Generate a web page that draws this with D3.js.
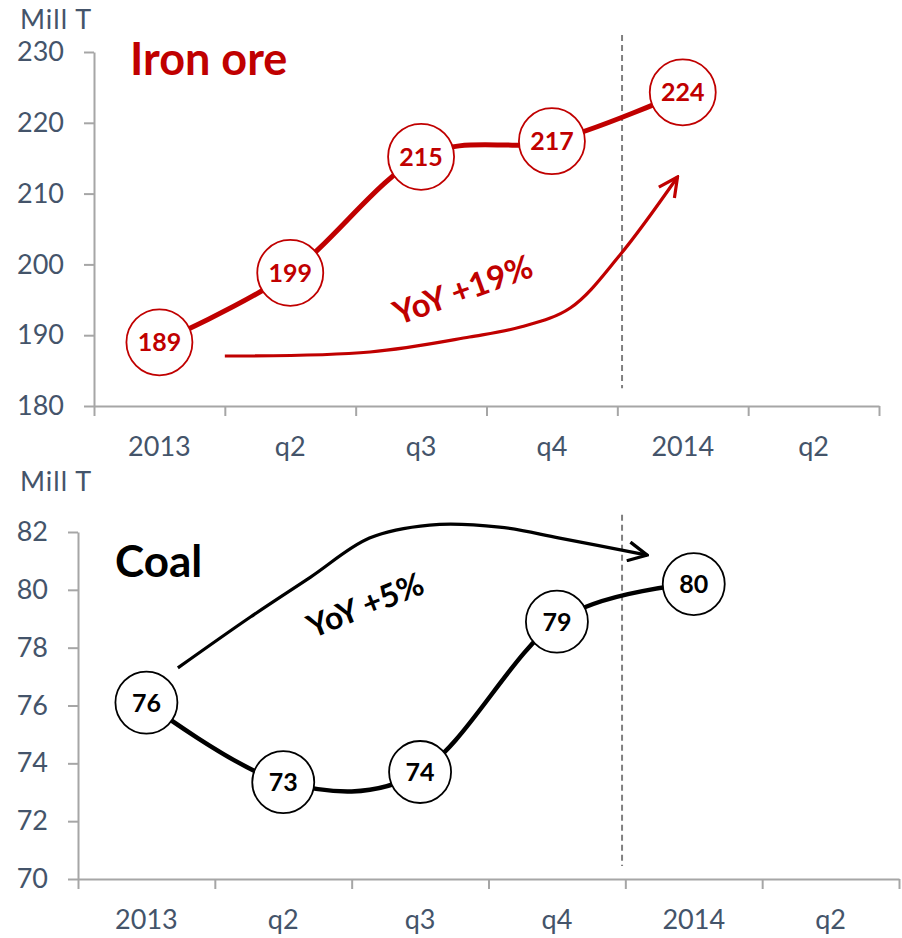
<!DOCTYPE html>
<html lang="en">
<head>
    <meta charset="UTF-8">
    <title>Iron ore and Coal</title>
    <script src="https://d3js.org/d3.v7.min.js"></script>
    <style>
        body { margin: 0; background: #fff; }
        text { font-family: Lato, "Open Sans", sans-serif; }
        .axis path, .axis line { stroke: #a6a6a6; stroke-width: 2; }
        .axis text { fill: #44546a; font-size: 27px; }
    </style>
</head>
<body>
<script>
    // Data
    const categories = ['2013', 'q2', 'q3', 'q4', '2014', 'q2'];

    const ironValues = [189.0, 198.8, 215.2, 217.4, 224.3];
    const ironLabels = ['189', '199', '215', '217', '224'];
    const ironTicks = [180, 190, 200, 210, 220, 230];

    const coalValues = [76.1, 73.35, 73.7, 78.9, 80.2];
    const coalLabels = ['76', '73', '74', '79', '80'];
    const coalTicks = [70, 72, 74, 76, 78, 80, 82];

    // annotation arrows, in (category boundary position, value)
    const ironArrow = [[1.00, 187.06], [2.11, 187.63], [2.87, 189.75], [3.26, 191.16],
                       [3.64, 193.84], [4.02, 201.33], [4.46, 212.34]];
    const coalArrow = [[0.73, 77.30], [1.26, 79.06], [1.70, 80.44], [2.13, 81.79],
                       [2.57, 82.24], [3.08, 82.17], [3.52, 81.79], [4.16, 81.20]];
    const ironDivider = [[4.036, 232.4], [4.036, 182.5]];
    const coalDivider = [[3.976, 82.6], [3.976, 70.45]];

    const svg = d3.select('body').append('svg')
        .attr('width', 902)
        .attr('height', 938);

    // arrow heads
    const defs = svg.append('defs');
    [['head-red', '#c00000'], ['head-black', '#000']].forEach(([id, c]) => {
        defs.append('marker')
            .attr('id', id)
            .attr('markerUnits', 'userSpaceOnUse')
            .attr('viewBox', '-22 -11 24 22')
            .attr('markerWidth', 24)
            .attr('markerHeight', 22)
            .attr('refX', 0)
            .attr('refY', 0)
            .attr('orient', 'auto')
            .append('path')
            .attr('d', 'M-19,-9.5L0,0L-19,9.5')
            .attr('fill', 'none')
            .attr('stroke', c)
            .attr('stroke-width', 3.2);
    });

    function drawPanel(opt) {
        const g = svg.append('g');

        const x = d3.scaleBand()
            .domain(d3.range(categories.length))
            .range([opt.x0, opt.x1])
            .padding(0);
        const xb = d3.scaleLinear()
            .domain([0, categories.length])
            .range([opt.x0, opt.x1]);
        const y = d3.scaleLinear()
            .domain([opt.ticks[0], opt.ticks[opt.ticks.length - 1]])
            .range([opt.y0, opt.y1]);

        // x axis: tick marks on boundaries, labels centred
        g.append('g')
            .attr('class', 'axis')
            .attr('transform', `translate(0,${opt.y0})`)
            .call(d3.axisBottom(xb).tickValues(d3.range(categories.length + 1))
                .tickSize(10).tickSizeOuter(0).tickFormat(''));
        g.append('g')
            .attr('class', 'axis')
            .attr('transform', `translate(0,${opt.y0})`)
            .call(d3.axisBottom(x).tickSize(0).tickPadding(31)
                .tickFormat(i => categories[i]))
            .call(a => a.select('.domain').remove());

        // y axis
        g.append('g')
            .attr('class', 'axis')
            .attr('transform', `translate(${opt.x0},0)`)
            .call(d3.axisLeft(y).tickValues(opt.ticks).tickSize(10)
                .tickSizeOuter(0).tickPadding(20));

        g.append('text')
            .attr('x', 20)
            .attr('y', opt.y1 - opt.unitGap)
            .attr('fill', '#44546a')
            .style('font-size', '27px')
            .style('letter-spacing', '1px')
            .text('Mill T');

        // divider
        g.append('path')
            .attr('d', d3.line().x(d => xb(d[0])).y(d => y(d[1]))(opt.divider))
            .attr('stroke', '#808080')
            .attr('stroke-width', 2)
            .attr('stroke-dasharray', '6,4');

        // annotation arrow
        g.append('path')
            .attr('d', d3.line().curve(d3.curveCatmullRom.alpha(0.5))
                .x(d => xb(d[0])).y(d => y(d[1]))(opt.arrow))
            .attr('fill', 'none')
            .attr('stroke', opt.color)
            .attr('stroke-width', 3.2)
            .attr('marker-end', `url(#${opt.head})`);

        g.append('text')
            .attr('transform', `translate(${xb(opt.yoyAt[0])},${y(opt.yoyAt[1])}) rotate(${opt.yoyAngle})`)
            .attr('text-anchor', 'middle')
            .attr('dy', '0.35em')
            .attr('fill', opt.color)
            .style('font-size', opt.yoySize)
            .style('font-weight', 'bold')
            .text(opt.yoy);

        // series line
        const pts = opt.values.map((v, i) => [x(i) + x.bandwidth() / 2, y(v)]);
        g.append('path')
            .attr('d', d3.line().curve(d3.curveCardinal.tension(0))(pts))
            .attr('fill', 'none')
            .attr('stroke', opt.color)
            .attr('stroke-width', opt.lineWidth);

        const node = g.selectAll('.node')
            .data(opt.values)
            .enter().append('g')
            .attr('class', 'node')
            .attr('transform', (d, i) => `translate(${pts[i][0]},${pts[i][1]})`);
        node.append('circle')
            .attr('r', opt.r)
            .attr('fill', '#fff')
            .attr('stroke', opt.color)
            .attr('stroke-width', 1.8);
        node.append('text')
            .attr('text-anchor', 'middle')
            .attr('dy', '0.36em')
            .attr('fill', opt.color)
            .style('font-size', opt.labelSize)
            .style('font-weight', 'bold')
            .text((d, i) => opt.labels[i]);

        // title
        g.append('text')
            .attr('x', opt.titleX)
            .attr('y', opt.titleY)
            .attr('fill', opt.color)
            .style('font-size', opt.titleSize)
            .style('font-weight', 'bold')
            .text(opt.title);
    }

    drawPanel({
        x0: 94, x1: 879, y0: 406, y1: 52, unitGap: 23,
        ticks: ironTicks, values: ironValues, labels: ironLabels,
        arrow: ironArrow, divider: ironDivider,
        color: '#c00000', head: 'head-red', lineWidth: 5, r: 33, labelSize: '25px',
        yoy: 'YoY +19%', yoyAt: [2.82, 196.4], yoyAngle: -20, yoySize: '33px',
        title: 'Iron ore', titleX: 130, titleY: 75, titleSize: '45px'
    });

    drawPanel({
        x0: 78, x1: 899, y0: 879, y1: 532, unitGap: 41,
        ticks: coalTicks, values: coalValues, labels: coalLabels,
        arrow: coalArrow, divider: coalDivider,
        color: '#000', head: 'head-black', lineWidth: 4.5, r: 31, labelSize: '25px',
        yoy: 'YoY +5%', yoyAt: [2.10, 79.47], yoyAngle: -22, yoySize: '32px',
        title: 'Coal', titleX: 115, titleY: 577, titleSize: '44px'
    });
</script>
</body>
</html>
